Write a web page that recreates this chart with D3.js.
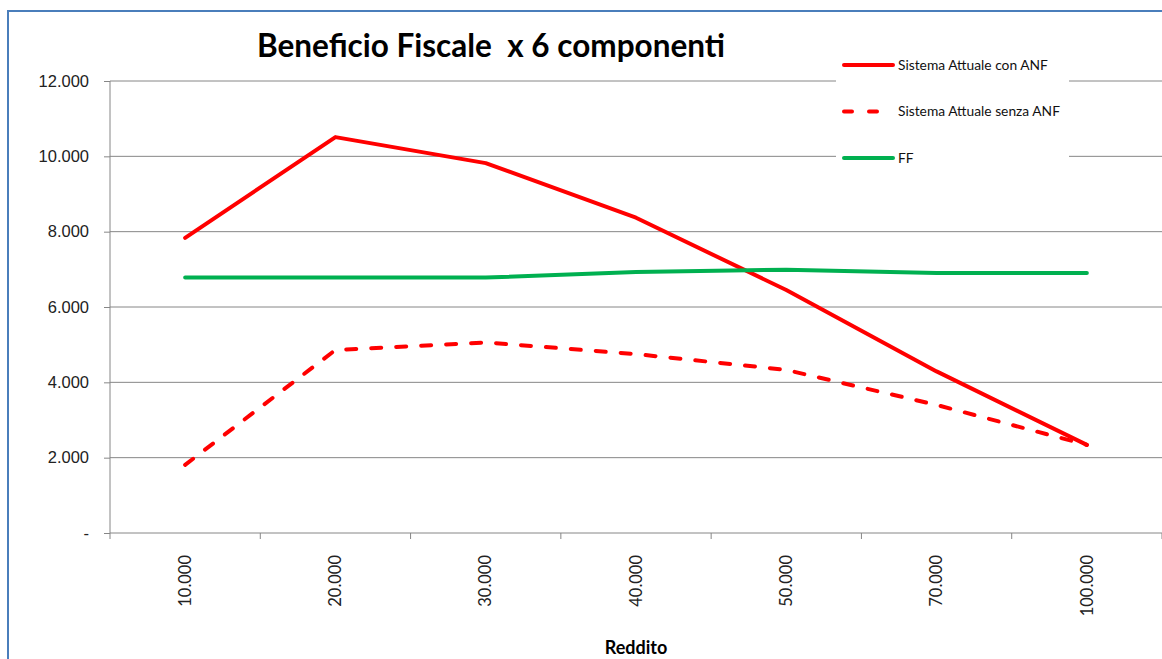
<!DOCTYPE html>
<html>
<head>
<meta charset="utf-8">
<script src="https://cdn.jsdelivr.net/npm/d3@7"></script>
<style>
  body { margin: 0; background: #fff; }
  svg { display: block; font-family: Lato, "Open Sans", sans-serif; }
</style>
</head>
<body>
<svg id="chart" width="1162" height="659"></svg>
<script>
// reddito categories
var categories = ["10.000", "20.000", "30.000", "40.000", "50.000", "70.000", "100.000"];
// beneficio fiscale, 6 componenti
var conANF   = [7835, 10510, 9820, 8370, 6450, 4290, 2340];
var senzaANF = [1810, 4860, 5060, 4750, 4330, 3400, 2340];
var ffValues = [6780, 6780, 6780, 6930, 6990, 6900, 6900];
var yTicks = [0, 2000, 4000, 6000, 8000, 10000, 12000];

var series = [
  {name: "Sistema Attuale con ANF", values: conANF, color: "#ff0000", dash: null},
  {name: "Sistema Attuale senza ANF", values: senzaANF, color: "#ff0000", dash: "10,15"},
  {name: "FF", values: ffValues, color: "#00b050", dash: null}
];

var svg = d3.select("#chart"),
    margin = {top: 81, right: 0, bottom: 126, left: 110},
    width = +svg.attr("width") - margin.left - margin.right,
    height = +svg.attr("height") - margin.top - margin.bottom;

var it = d3.formatLocale({decimal: ",", thousands: ".", grouping: [3], currency: ["€", ""]});
var fmt = function(v) { return v === 0 ? "-" : it.format(",.0f")(v); };

// outer chart border
svg.append("rect")
    .attr("x", 8).attr("y", 11)
    .attr("width", 1300).attr("height", 800)
    .attr("fill", "none")
    .attr("stroke", "#4a7ebb")
    .attr("stroke-width", 2);

var x = d3.scaleBand().domain(categories).range([0, width]),
    y = d3.scaleLinear().domain([0, 12000]).range([height, 0]);

var g = svg.append("g").attr("transform", "translate(" + margin.left + "," + margin.top + ")");

// gridlines
g.append("g")
  .selectAll("line")
  .data(yTicks.slice(1))
  .enter().append("line")
    .attr("x1", 0).attr("x2", width)
    .attr("y1", function(d) { return y(d); })
    .attr("y2", function(d) { return y(d); })
    .attr("stroke", "#868686")
    .attr("stroke-width", 1);

// y axis
var yAxis = g.append("g")
    .call(d3.axisLeft(y).tickValues(yTicks).tickFormat(fmt).tickSize(6).tickPadding(15));
yAxis.selectAll("line, path").attr("stroke", "#868686");
yAxis.select(".domain").attr("d", "M0," + height + "V0");
yAxis.selectAll("text")
    .style("font-size", "16.5px")
    .attr("fill", "#222");

// x axis
var xg = g.append("g").attr("transform", "translate(0," + height + ")");
xg.append("line").attr("x1", 0).attr("x2", width).attr("stroke", "#868686");
var bounds = categories.map(function(c) { return x(c); }).concat([width]);
xg.selectAll(".tick")
  .data(bounds)
  .enter().append("line")
    .attr("x1", function(d) { return d; })
    .attr("x2", function(d) { return d; })
    .attr("y1", 0).attr("y2", 6)
    .attr("stroke", "#868686");
xg.selectAll(".lbl")
  .data(categories)
  .enter().append("text")
    .attr("transform", function(d) { return "translate(" + (x(d) + x.bandwidth() / 2) + ",22) rotate(-90)"; })
    .attr("text-anchor", "end")
    .attr("dy", "0.35em")
    .style("font-size", "16.5px")
    .attr("fill", "#222")
    .text(function(d) { return d; });

// lines
var line = d3.line()
    .x(function(d, i) { return x(categories[i]) + x.bandwidth() / 2; })
    .y(function(d) { return y(d); });

g.selectAll(".serie")
  .data(series)
  .enter().append("path")
    .attr("class", "serie")
    .attr("d", function(d) { return line(d.values); })
    .attr("fill", "none")
    .attr("stroke", function(d) { return d.color; })
    .attr("stroke-width", 4)
    .attr("stroke-linecap", "round")
    .attr("stroke-linejoin", "round")
    .attr("stroke-dasharray", function(d) { return d.dash; });

// title
svg.append("text")
    .attr("x", 491).attr("y", 57)
    .attr("text-anchor", "middle")
    .style("font-size", "31.5px")
    .style("font-weight", "bold")
    .style("white-space", "pre")
    .text("Beneficio Fiscale  x 6 componenti");

// x axis title
svg.append("text")
    .attr("x", 636).attr("y", 654)
    .attr("text-anchor", "middle")
    .style("font-size", "18px")
    .style("font-weight", "bold")
    .text("Reddito");

// legend
var legend = svg.append("g").attr("transform", "translate(836,44)");
legend.append("rect")
    .attr("width", 233).attr("height", 140)
    .attr("fill", "#fff");
var item = legend.selectAll(".item")
  .data(series)
  .enter().append("g")
    .attr("transform", function(d, i) { return "translate(0," + (21 + i * 46.5) + ")"; });
item.append("line")
    .attr("x1", 8).attr("x2", 57)
    .attr("stroke", function(d) { return d.color; })
    .attr("stroke-width", 4)
    .attr("stroke-linecap", "round")
    .attr("stroke-dasharray", function(d) { return d.dash ? "8,17" : null; });
item.append("text")
    .attr("x", 62).attr("y", 4.5)
    .style("font-size", "13.8px")
    .attr("fill", "#111")
    .text(function(d) { return d.name; });
</script>
</body>
</html>
